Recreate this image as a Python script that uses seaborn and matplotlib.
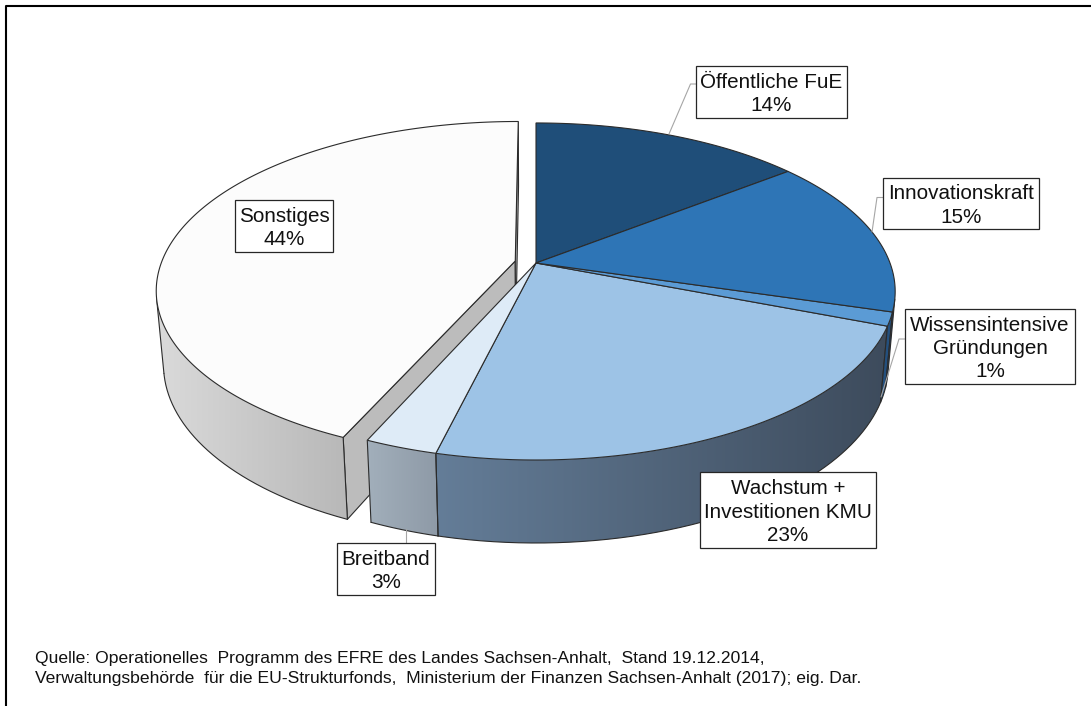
import numpy as np
import matplotlib
matplotlib.use("Agg")
import matplotlib.pyplot as plt
from matplotlib.colors import to_rgb
from matplotlib.patches import Polygon
import seaborn as sns

sns.set_style("white")
plt.rcParams['font.family'] = ['Liberation Sans', 'DejaVu Sans']

# ---- data ----
categories = ["Öffentliche FuE", "Innovationskraft", "Wissensintensive\nGründungen",
              "Wachstum +\nInvestitionen KMU", "Breitband", "Sonstiges"]
shares = [14.4, 15.2, 1.3, 22.9, 2.8, 43.4]
pct_labels = ["14%", "15%", "1%", "23%", "3%", "44%"]
top_colors = ["#1F4E79", "#2E75B6", "#5B9BD5", "#9DC3E6", "#DEEBF7", "#FCFCFC"]
wall_left = ["#1F4E79", "#1B4470", "#24507E", "#647D98", "#A2AFBB", "#DADADA"]
wall_right = ["#1F4E79", "#1B4470", "#24507E", "#3D4B5C", "#8E9AA7", "#B8B8B8"]
explode = [0, 0, 0, 0, 0, 0.06]

# ---- projection (pixel frame) ----
CX, CY = 536.0, 263.0
RX, RY, K, M, DEPTH = 354.0, 163.7, 0.169, 0.019, 74.3


def project(s, c, z):
    den = 1 + K * c + M * z
    return CX + RX * s / den, CY - (RY * c - DEPTH * z) / den


fig = plt.figure(figsize=(10.91, 7.06), dpi=100)
ax = fig.add_axes([0, 0, 1, 1])
ax.axis("off")

EDGE = "#2b2b2b"
LW = 0.8
edges = np.cumsum([0] + shares) / sum(shares) * 2 * np.pi


def rim(a0, a1, off, z):
    t = np.linspace(a0, a1, max(3, int((a1 - a0) * 180 / np.pi * 4)))
    return t, *project(np.sin(t) + off[0], np.cos(t) + off[1], z)


def draw_wedge(i, zo):
    a0, a1 = edges[i], edges[i + 1]
    mid = (a0 + a1) / 2
    off = (explode[i] * np.sin(mid), explode[i] * np.cos(mid))
    t, xt, yt = rim(a0, a1, off, 0)
    _, xb, yb = rim(a0, a1, off, 1)
    # a wall strip is visible when its screen orientation faces the viewer
    dx = np.diff(xt)
    dy = np.diff(yt)
    cross = dx * (yb[:-1] - yt[:-1]) - dy * (xb[:-1] - xt[:-1])
    vis = np.where(cross < 0)[0]
    if len(vis):
        j0, j1 = vis[0], vis[-1] + 1
        outline = np.column_stack([np.r_[xt[j0:j1 + 1], xb[j0:j1 + 1][::-1]],
                                   np.r_[yt[j0:j1 + 1], yb[j0:j1 + 1][::-1]]])
        c0, c1 = np.array(to_rgb(wall_left[i])), np.array(to_rgb(wall_right[i]))
        ramp = np.linspace(0, 1, 256)[None, :, None]
        grad = c0[None, None, :] + (c1 - c0)[None, None, :] * ramp
        x_min, x_max = outline[:, 0].min(), outline[:, 0].max()
        y_min, y_max = outline[:, 1].min(), outline[:, 1].max()
        im = ax.imshow(grad, extent=(x_min, x_max, y_max, y_min), aspect="auto",
                       zorder=zo, interpolation="bilinear")
        patch = Polygon(outline, closed=True, transform=ax.transData, fc="none", ec="none")
        ax.add_patch(patch)
        im.set_clip_path(patch)
        ax.plot(xb[j0:j1 + 1], yb[j0:j1 + 1], color=EDGE, lw=LW, zorder=zo + 0.1)
        ax.plot([xt[j0], xb[j0]], [yt[j0], yb[j0]], color=EDGE, lw=LW, zorder=zo + 0.1)
        ax.plot([xt[j1], xb[j1]], [yt[j1], yb[j1]], color=EDGE, lw=LW, zorder=zo + 0.1)
    # top face
    ax_, ay_ = project(off[0], off[1], 0)
    ax.add_patch(Polygon(np.column_stack([np.r_[ax_, xt], np.r_[ay_, yt]]), closed=True,
                         fc=top_colors[i], ec=EDGE, lw=LW, zorder=zo + 0.2))


# exploded segment goes first, including its two cut faces
mid = (edges[5] + edges[6]) / 2
off = (explode[5] * np.sin(mid), explode[5] * np.cos(mid))
for a in (edges[5], edges[6]):
    s, c = np.sin(a) + off[0], np.cos(a) + off[1]
    pts = [project(off[0], off[1], 0), project(s, c, 0), project(s, c, 1), project(off[0], off[1], 1)]
    ax.add_patch(Polygon(pts, closed=True, fc="#BCBCBC", ec=EDGE, lw=LW, zorder=1))
draw_wedge(5, 1.5)
for i in (0, 1, 2, 3, 4):
    draw_wedge(i, 3 + (i == 2) * 0.5 + (i == 1) * 1.0)

# ---- labels ----
boxes = [(696, 66, 847, 118), (883, 178, 1039, 229), (905, 309, 1075, 384),
         (700, 472, 876, 548), (337, 543, 435, 595), (235, 200, 333, 252)]
leaders = [[(696, 84), (690.5, 84), (669, 134)],
           [(883, 197.5), (877, 197.5), (872, 232)],
           [(905, 339), (899, 339), (881, 397)],
           None,
           [(405.5, 543), (405.5, 529)],
           None]
for cat, pct, box, lead in zip(categories, pct_labels, boxes, leaders):
    x0, y0, x1, y1 = box
    if lead:
        ax.plot(*zip(*lead), color="#A6A6A6", lw=0.8, zorder=6)
    ax.add_patch(plt.Rectangle((x0, y0), x1 - x0, y1 - y0, fc="white", ec="#262626", lw=0.9, zorder=7))
    ax.text((x0 + x1) / 2, (y0 + y1) / 2 + 2, f"{cat}\n{pct}", ha="center", va="center",
            fontsize=14.9, color="#111111", linespacing=1.27, zorder=8)

# ---- source note ----
ax.text(35, 658, "Quelle: Operationelles  Programm des EFRE des Landes Sachsen-Anhalt,  Stand 19.12.2014,",
        fontsize=12.6, va="center", color="#111111")
ax.text(35, 678, "Verwaltungsbehörde  für die EU-Strukturfonds,  Ministerium der Finanzen Sachsen-Anhalt (2017); eig. Dar.",
        fontsize=12.6, va="center", color="#111111")

# ---- frame ----
ax.plot([5.5, 5.5, 1091], [706, 5.5, 5.5], color="black", lw=1.5, zorder=9)

ax.set_xlim(0, 1091)
ax.set_ylim(706, 0)
ax.set_aspect("auto")
fig.savefig("out.png", dpi=100)
